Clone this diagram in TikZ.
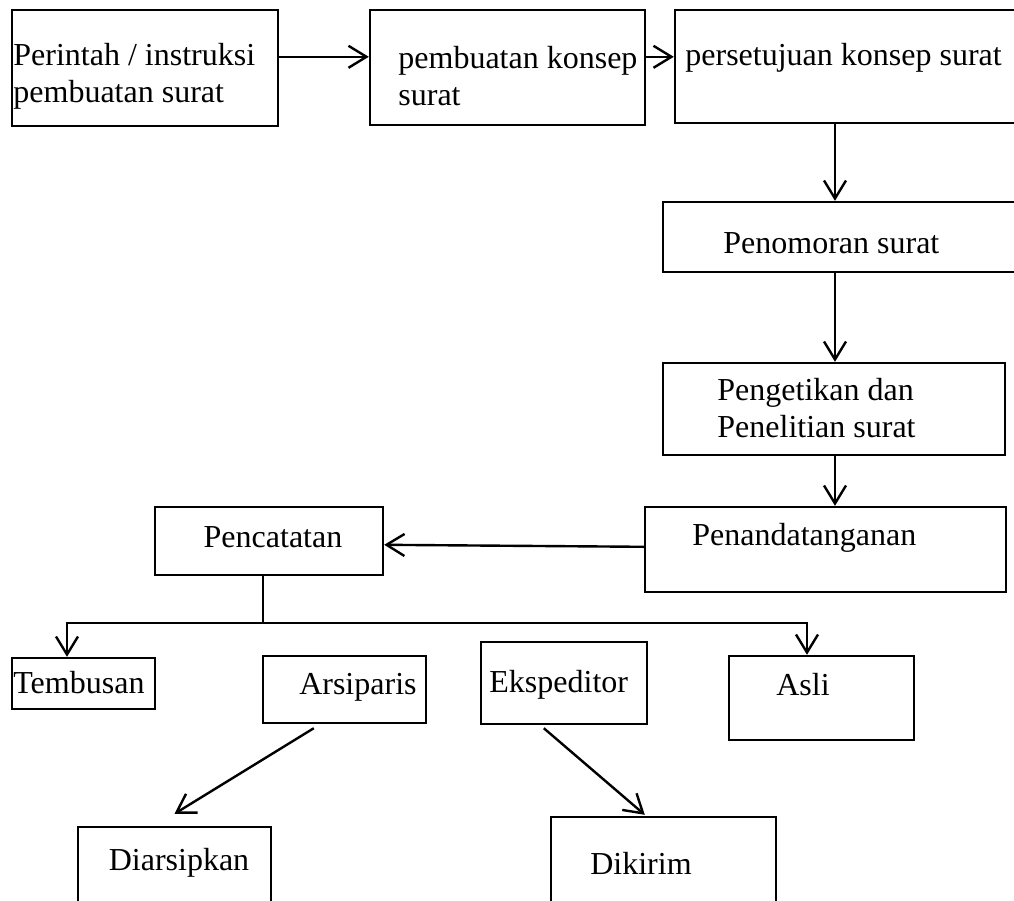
\documentclass[tikz,border=0pt]{standalone}
\usepackage{fontspec}
\setmainfont{Liberation Serif}
\usepackage{tikz}
\usetikzlibrary{positioning, arrows.meta, fit, calc}

\begin{document}
\begin{tikzpicture}[
    x=0.5pt, y=-0.5pt,
    box/.style={draw, line width=1.2pt, inner sep=0pt},
    txt/.style={inner sep=0pt, align=left},
    arr/.style={-{Straight Barb[length=9pt, width=11pt, line width=1.2pt]}, line width=1.2pt},
    every node/.style={font=\fontsize{16}{18.4}\selectfont}
]
\useasboundingbox (0,0) rectangle (1014,901);
\clip (0,0) rectangle (1014,901);

% Top row
\node[box, fit={(12,10) (278,126)}] (b1) {};
\node[txt, anchor=west] (t1) at (13,76) {Perintah / instruksi\\pembuatan surat};
\node[box, fit={(370,10) (645,125)}] (b2) {};
\node[txt, anchor=west] (t2) at (398,76) {pembuatan konsep\\surat};
\node[box, fit={(675,10) (1030,123)}] (b3) {};
\node[txt, anchor=west] (t3) at (685,58) {persetujuan konsep surat};

% Right column
\node[box, fit={(663,202) (1030,272)}] (b4) {};
\node[txt, anchor=west] (t4) at (723,243) {Penomoran surat};
\node[box, fit={(663,363) (1005,455)}] (b5) {};
\node[txt, anchor=west] (t5) at (717,408) {Pengetikan dan\\Penelitian surat};
\node[box, fit={(645,507) (1006,592)}] (b6) {};
\node[txt, anchor=west] (t6) at (692,538) {Penandatanganan};

% Pencatatan
\node[box, fit={(155,507) (383,575)}] (b7) {};
\node[txt] (t7) at (273,537) {Pencatatan};

% Branches
\node[box, fit={(12,658) (155,709)}] (b8) {};
\node[txt, anchor=west] (t8) at (13,683) {Tembusan};
\node[box, fit={(263,656) (426,723)}] (b9) {};
\node[txt, anchor=east] (t9) at (417,687) {Arsiparis};
\node[box, fit={(481,642) (647,724)}] (b10) {};
\node[txt, anchor=west] (t10) at (489,685) {Ekspeditor};
\node[box, fit={(729,656) (914,740)}] (b11) {};
\node[txt] (t11) at (803,685) {Asli};

% Bottom row
\node[box, fit={(78,827) (271,920)}] (b12) {};
\node[txt] (t12) at (179,863) {Diarsipkan};
\node[box, fit={(551,817) (776,920)}] (b13) {};
\node[txt] (t13) at (641,863) {Dikirim};

% Helper coordinates
\coordinate (kx) at (835,0);
\coordinate (cab) at (263,623);
\coordinate (kiri) at (67,623);
\coordinate (kanan) at (807,623);

% Arrows
\draw[arr] ($(b1.north east)+(0,48)$) -- ($(b2.north west)+(0,48)$);
\draw[arr] ($(b2.north east)+(0,48)$) -- ($(b3.north west)+(0,48)$);
\draw[arr] (b3.south -| kx) -- (b4.north -| kx);
\draw[arr] (b4.south -| kx) -- (b5.north -| kx);
\draw[arr] (b5.south -| kx) -- (b6.north -| kx);
\draw[arr] ($(b6.north west)+(0,41)$) -- ($(b7.north east)+(0,39)$);
\draw[arr] (b7.south -| cab) -- (cab) -| (b8.north -| kiri);
\draw[arr] (cab) -| (b11.north -| kanan);
\draw[arr] ($(b9.south west)+(52,4)$) -- ($(b12.north)+(0,-12)$);
\draw[arr] ($(b10.south west)+(64,3)$) -- ($(b13.north west)+(95,-1)$);

\end{tikzpicture}
\end{document}
